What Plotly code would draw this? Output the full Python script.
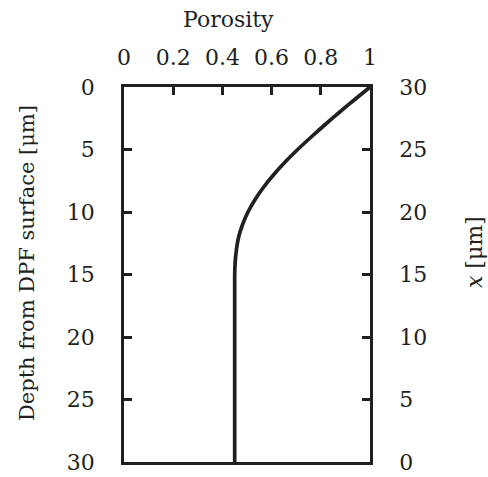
import plotly.graph_objects as go

# Data (porosity profile vs depth)
depth_um = [0, 1, 2, 3, 4, 5, 6, 7, 8, 9, 10, 11, 12, 13, 14, 15, 30]
porosity = [1.000, 0.938, 0.877, 0.818, 0.761, 0.706, 0.655, 0.609, 0.568,
            0.533, 0.504, 0.482, 0.466, 0.457, 0.452, 0.450, 0.450]
x_um = [30 - d for d in depth_um]

x_ticks = [0, 0.2, 0.4, 0.6, 0.8, 1]
x_ticktext = ["0", "0.2", "0.4", "0.6", "0.8", "1"]
depth_ticks = [0, 5, 10, 15, 20, 25, 30]

INK = "#231f20"
TICKFONT = dict(family="DejaVu Serif", size=22, color=INK)
TITLEFONT = dict(family="DejaVu Serif", size=22, color=INK)
LEFTTITLEFONT = dict(family="DejaVu Serif", size=21, color=INK)

fig = go.Figure()
fig.add_trace(go.Scatter(x=porosity, y=depth_um, mode="lines",
                         line=dict(color=INK, width=3.7, shape="spline", smoothing=0.8),
                         showlegend=False, hoverinfo="skip"))
fig.add_trace(go.Scatter(x=porosity, y=x_um, mode="lines", yaxis="y2",
                         line=dict(color="rgba(0,0,0,0)", width=0),
                         showlegend=False, hoverinfo="skip"))

W, H = 488, 477
L, R, T, B = 124, 118, 87, 15

common = dict(ticks="inside", ticklen=8, tickwidth=2.5, tickcolor=INK,
              showline=True, linecolor=INK, linewidth=2.5,
              showgrid=False, zeroline=False, ticklabeloverflow="allow",
              automargin=False, tickfont=TICKFONT)

fig.update_layout(
    width=W, height=H,
    margin=dict(l=L, r=R, t=T, b=B, pad=0, autoexpand=False),
    paper_bgcolor="white", plot_bgcolor="white",
    font=TICKFONT,
    xaxis=dict(side="top", range=[0, 1], tickvals=x_ticks, ticktext=x_ticktext,
               mirror=True, ticklabelstandoff=10, **common),
    yaxis=dict(range=[30, 0], tickvals=depth_ticks, ticklabelstandoff=22, **common),
    yaxis2=dict(range=[0, 30], tickvals=depth_ticks, overlaying="y", side="right",
                ticklabelstandoff=22, **common),
    annotations=[
        dict(text="Porosity", xref="paper", yref="paper", x=0.423, y=1.179,
             xanchor="center", yanchor="middle", showarrow=False, font=TITLEFONT),
        dict(text="Depth from DPF surface [μm]", xref="paper", yref="paper",
             x=-0.395, y=0.53, xanchor="center", yanchor="middle",
             textangle=-90, showarrow=False, font=LEFTTITLEFONT),
        dict(text="<i>x</i> [μm]", xref="paper", yref="paper",
             x=1.427, y=0.56, xanchor="center", yanchor="middle",
             textangle=-90, showarrow=False, font=TITLEFONT),
    ],
)

fig.write_html("out.html")
